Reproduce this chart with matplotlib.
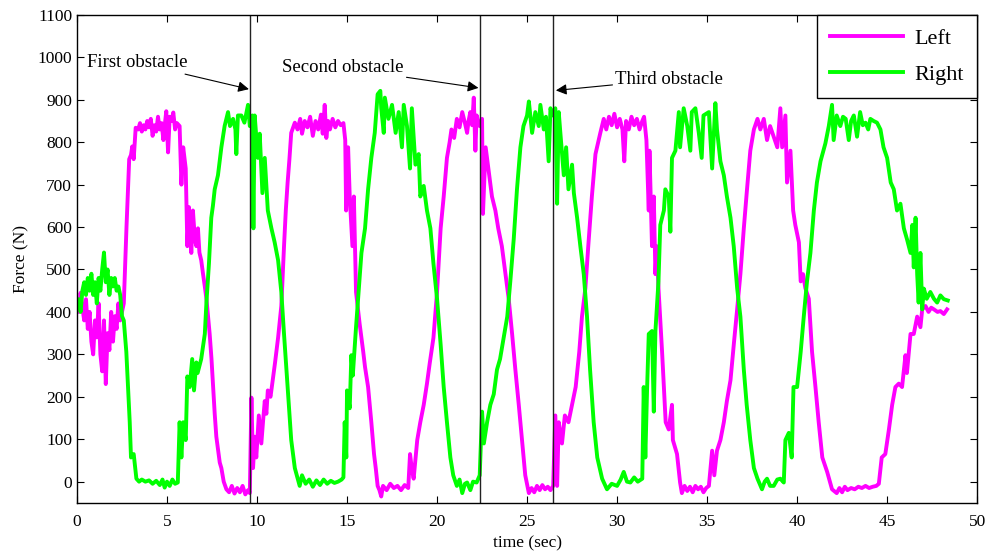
import matplotlib
matplotlib.use("Agg")
from matplotlib import pyplot as plt

plt.rcParams["font.family"] = ["Liberation Serif", "DejaVu Serif"]

# foot force, left foot
t_left = [
    0, 0.1, 0.2, 0.3, 0.4, 0.5, 0.6, 0.7, 0.8, 0.9, 1.0, 1.1, 1.2, 1.3, 1.4, 1.5,
    1.6, 1.7, 1.8, 1.9, 2.0, 2.1, 2.2, 2.3, 2.4, 2.5,
    2.6, 2.75, 2.9, 3.0, 3.07, 3.15, 3.26, 3.4, 3.5, 3.6, 3.7, 3.8, 3.9, 4.0, 4.1,
    4.2, 4.3, 4.4, 4.5, 4.6, 4.7, 4.8, 4.9, 4.96, 5.06, 5.15, 5.25, 5.35, 5.45,
    5.55, 5.7, 5.8, 5.9, 6.04, 6.13, 6.22, 6.35, 6.44, 6.55, 6.63, 6.72, 6.8, 6.9,
    7.0, 7.1, 7.19, 7.28, 7.37, 7.47, 7.56, 7.65, 7.74, 7.85, 7.93, 8.02, 8.15,
    8.3, 8.45, 8.6, 8.75, 8.9, 9.05, 9.2, 9.35, 9.5, 9.6, 9.69, 9.78, 9.87, 9.96,
    10.1, 10.24, 10.35, 10.43, 10.52, 10.6, 10.75, 10.9, 11.0, 11.17, 11.35, 11.5,
    11.6, 11.7, 11.8, 11.9, 12.1, 12.25, 12.4, 12.5, 12.65, 12.8, 12.95, 13.1,
    13.25, 13.4, 13.55, 13.65, 13.76, 13.85, 13.95, 14.05, 14.2, 14.35, 14.5,
    14.65, 14.8, 14.9, 14.95, 15.06, 15.15, 15.3, 15.38, 15.5, 15.6, 15.7, 15.9,
    16.0, 16.17, 16.35, 16.5, 16.6, 16.7, 16.8, 16.9, 17.0, 17.2, 17.4, 17.6, 17.8,
    18.0, 18.2, 18.4, 18.5, 18.6, 18.7, 18.9, 19.07, 19.26, 19.44, 19.6, 19.8,
    20.0, 20.2, 20.37, 20.55, 20.7, 20.8, 20.95, 21.1, 21.25, 21.4, 21.55, 21.67,
    21.75, 21.85, 21.95, 22.04, 22.13, 22.2, 22.37, 22.45, 22.5, 22.55, 22.7, 22.9,
    23.05, 23.24, 23.4, 23.6, 23.8, 23.98, 24.17, 24.35, 24.54, 24.72, 24.9, 25.1,
    25.25, 25.4, 25.55, 25.7, 25.85, 26.0, 26.15, 26.3, 26.45, 26.57, 26.67, 26.76,
    26.94, 27.1, 27.3, 27.5, 27.7, 27.9, 28.05, 28.24, 28.4, 28.6, 28.8, 28.95,
    29.07, 29.26, 29.4, 29.55, 29.7, 29.85, 30.0, 30.15, 30.3, 30.4, 30.5, 30.65,
    30.8, 30.95, 31.1, 31.25, 31.4, 31.5, 31.63, 31.76, 31.8, 31.94, 32.04, 32.13,
    32.2, 32.3, 32.5, 32.7, 32.87, 33.05, 33.1, 33.33, 33.5, 33.6, 33.75, 33.9,
    34.05, 34.2, 34.35, 34.5, 34.65, 34.8, 34.95, 35.1, 35.28, 35.4, 35.55, 35.74,
    35.93, 36.1, 36.3, 36.5, 36.67, 36.85, 37.04, 37.2, 37.4, 37.6, 37.8, 37.96,
    38.15, 38.33, 38.5, 38.7, 38.9, 39.07, 39.17, 39.35, 39.44, 39.63, 39.78, 39.9,
    40.1, 40.2, 40.33, 40.46, 40.65, 40.83, 41.02, 41.2, 41.4, 41.67, 41.94, 42.2,
    42.35, 42.5, 42.65, 42.8, 43.0, 43.2, 43.4, 43.6, 43.8, 44.0, 44.2, 44.4,
    44.54, 44.7, 44.9, 45.1, 45.28, 45.46, 45.65, 45.83, 46.02, 46.1, 46.3, 46.48,
    46.67, 46.85, 46.95, 47.13, 47.3, 47.45, 47.6, 47.8, 47.96, 48.15, 48.33,
]
force_left = [
    420, 400, 445, 410, 380, 430, 360, 400, 330, 300, 380, 340, 420, 300, 260, 380,
    230, 350, 310, 400, 330, 390, 360, 420, 380, 400,
    420, 600, 760, 770, 790, 760, 834, 830, 845, 825, 840, 830, 850, 835, 855,
    815, 840, 825, 860, 830, 845, 805, 850, 873, 776, 860, 850, 870, 830,
    845, 838, 700, 788, 738, 555, 647, 539, 639, 570, 555, 597, 540, 522,
    490, 460, 431, 390, 348, 290, 223, 160, 106, 70, 45, 32, 0,
    -18, -25, -10, -28, -15, -25, -10, -30, -20, -27, 198, 32, 106, 57,
    156, 90, 150, 190, 160, 215, 200, 248, 280, 339, 414, 555,
    640, 705, 760, 822, 846, 830, 855, 820, 850, 835, 860, 815,
    850, 830, 865, 820, 888, 810, 850, 830, 855, 835, 850,
    840, 845, 805, 639, 788, 672, 555, 672, 447, 410, 372, 306,
    270, 223, 140, 65, 30, -10, -20, -35, -10, -20, -5, -15, -10,
    -20, -8, -15, 65, 30, 7, 98, 140, 181, 231, 281, 339,
    447, 597, 672, 763, 800, 830, 810, 855, 835, 871, 845, 822,
    850, 871, 840, 905, 780, 863, 838, 845, 855, 631, 788, 722,
    672, 639, 597, 555, 489, 431, 348, 264, 181, 98, 15, -27,
    -15, -25, -10, -20, -8, -18, -12, -20, -10, 156, -10, 140,
    90, 156, 140, 181, 223, 306, 389, 456, 555, 672, 772, 800,
    822, 855, 830, 860, 840, 867, 835, 855, 830, 755, 850, 830,
    860, 840, 855, 830, 850, 860, 805, 639, 780, 555, 672, 489,
    555, 456, 306, 140, 123, 181, 98, 65, -2, -27, -10, -22,
    -12, -25, -10, -18, -12, -25, -15, -10, 73, 15, 73, 98,
    140, 190, 239, 331, 406, 489, 597, 680, 780, 830, 855, 830,
    855, 805, 838, 813, 788, 880, 788, 863, 705, 780, 639, 605,
    564, 472, 489, 456, 431, 306, 223, 140, 57, 23, -18, -27,
    -15, -25, -12, -20, -15, -18, -12, -15, -10, -15, -12, -10,
    -5, 57, 65, 123, 181, 223, 231, 223, 298, 256, 348, 348,
    389, 364, 406, 414, 400, 410, 406, 400, 402, 395, 406,
]

# foot force, right foot
t_right = [
    0, 0.1, 0.2, 0.3, 0.4, 0.5, 0.6, 0.7, 0.8, 0.9, 1.0, 1.1, 1.2, 1.3, 1.4, 1.5,
    1.6, 1.7, 1.8, 1.9, 2.0, 2.1, 2.2, 2.3, 2.4, 2.5,
    2.6, 2.74, 2.93, 3.0, 3.15, 3.3, 3.45, 3.6, 3.8, 4.0, 4.2, 4.4, 4.6, 4.75,
    4.87, 5.0, 5.15, 5.3, 5.45, 5.6, 5.7, 5.8, 5.9, 6.04, 6.13, 6.26, 6.4, 6.5,
    6.63, 6.7, 6.9, 7.1, 7.19, 7.33, 7.46, 7.55, 7.65, 7.83, 8.02, 8.2, 8.39, 8.5,
    8.67, 8.8, 8.85, 8.94, 9.13, 9.3, 9.5, 9.6, 9.74, 9.8, 9.87, 10.05, 10.15,
    10.3, 10.43, 10.6, 10.8, 10.98, 11.17, 11.35, 11.5, 11.7, 11.9, 12.1, 12.37,
    12.5, 12.7, 12.9, 13.1, 13.3, 13.5, 13.7, 13.9, 14.1, 14.3, 14.5, 14.7, 14.8,
    14.87, 14.96, 15.0, 15.15, 15.24, 15.32, 15.5, 15.6, 15.8, 16.0, 16.17, 16.35,
    16.54, 16.7, 16.85, 16.9, 17.04, 17.1, 17.3, 17.5, 17.7, 17.87, 18.05, 18.15,
    18.33, 18.5, 18.6, 18.8, 18.98, 19.07, 19.26, 19.44, 19.63, 19.8, 20.0, 20.2,
    20.37, 20.55, 20.74, 20.9, 21.1, 21.25, 21.4, 21.55, 21.67, 21.85, 22.0, 22.2,
    22.37, 22.5, 22.6, 22.78, 22.96, 23.15, 23.33, 23.5, 23.7, 23.9, 24.07, 24.26,
    24.44, 24.63, 24.8, 25.0, 25.1, 25.28, 25.46, 25.65, 25.74, 25.93, 26.05, 26.2,
    26.3, 26.4, 26.57, 26.67, 26.76, 26.85, 27.04, 27.17, 27.3, 27.5, 27.6, 27.78,
    27.96, 28.15, 28.33, 28.5, 28.7, 28.9, 29.17, 29.44, 29.7, 30.0, 30.2, 30.37,
    30.55, 30.74, 30.95, 31.15, 31.4, 31.48, 31.57, 31.67, 31.76, 31.94, 32.04,
    32.13, 32.3, 32.4, 32.6, 32.68, 32.87, 32.96, 33.05, 33.24, 33.43, 33.5, 33.7,
    33.9, 34.07, 34.15, 34.35, 34.54, 34.7, 34.8, 35.1, 35.28, 35.46, 35.55, 35.74,
    35.93, 36.1, 36.3, 36.48, 36.67, 36.85, 37.04, 37.2, 37.4, 37.6, 37.8, 38.05,
    38.2, 38.33, 38.5, 38.7, 38.9, 39.07, 39.26, 39.35, 39.54, 39.7, 39.8, 40.0,
    40.2, 40.37, 40.55, 40.74, 40.93, 41.1, 41.3, 41.57, 41.76, 41.94, 42.03, 42.2,
    42.4, 42.55, 42.7, 42.87, 43.0, 43.15, 43.33, 43.5, 43.65, 43.8, 43.95, 44.07,
    44.25, 44.44, 44.63, 44.8, 45.0, 45.2, 45.37, 45.55, 45.74, 45.93, 46.1, 46.3,
    46.4, 46.48, 46.58, 46.67, 46.75, 46.85, 46.95, 47.04, 47.2, 47.4, 47.6, 47.78,
    47.96, 48.15, 48.37,
]
force_right = [
    410, 430, 400, 450, 470, 440, 480, 450, 490, 440, 470, 420, 480, 450, 500, 540,
    470, 500, 440, 480, 460, 480, 450, 460, 440, 390,
    380, 306, 140, 57, 65, 7, 0, 5, 0, 3, -5, 2, -8, 5,
    -14, 0, -10, 5, -5, -2, 140, 57, 140, 98, 248, 223, 289, 215,
    281, 256, 289, 348, 422, 514, 622, 650, 689, 722, 788, 838, 871, 838,
    855, 830, 772, 863, 863, 846, 888, 838, 863, 597, 863, 763, 820,
    680, 763, 639, 597, 564, 522, 447, 348, 223, 98, 32, -10,
    15, -5, 5, -12, 3, -8, 5, -5, 2, -3, 0, 5, 10,
    140, 57, 215, 173, 298, 250, 364, 422, 539, 597, 689, 763,
    822, 913, 921, 880, 822, 905, 855, 888, 822, 871, 788, 888,
    838, 738, 880, 747, 772, 672, 697, 639, 597, 514, 431, 323,
    223, 140, 57, 15, -10, 5, -27, -5, -2, -20, 0, -2,
    15, 165, 90, 140, 181, 206, 264, 289, 339, 389, 472, 572,
    689, 788, 838, 863, 896, 822, 871, 838, 888, 830, 860, 755,
    880, 863, 880, 655, 871, 822, 722, 788, 689, 747, 680, 622,
    555, 489, 389, 264, 140, 57, 7, -18, -5, -10, 5, 23,
    0, -2, 10, 0, 7, 223, 57, 223, 348, 355, 165,
    355, 472, 605, 639, 689, 672, 589, 763, 780, 871, 788, 880,
    838, 780, 871, 880, 822, 763, 863, 871, 738, 892, 830, 755,
    722, 672, 622, 555, 456, 389, 264, 181, 98, 32, 7, -18,
    0, 7, -10, -10, 5, 7, -2, 98, 115, 57, 223, 223,
    306, 389, 472, 539, 639, 705, 755, 797, 838, 888, 805, 863,
    838, 860, 855, 805, 850, 863, 813, 871, 840, 846, 830, 855,
    850, 846, 830, 788, 763, 705, 689, 639, 655, 597, 572, 539,
    605, 505, 622, 489, 422, 539, 406, 455, 431, 447, 431, 422,
    439, 430, 427,
]

# obstacle crossing times (sec)
obstacle_times = [9.6, 22.4, 26.45]
obstacle_labels = ["First obstacle", "Second obstacle", "Third obstacle"]
label_pos = [(0.55, 987), (11.4, 975), (29.9, 948)]
arrow_tip = [(9.55, 925), (22.3, 928), (26.6, 922)]

fig = plt.figure(figsize=(9.87, 5.52), dpi=100)
ax = fig.add_axes([0.078, 0.089, 0.912, 0.884])

ax.plot(t_left, force_left, color="#ff00ff", lw=2.8, label="Left")
ax.plot(t_right, force_right, color="#00ff00", lw=2.8, label="Right")

for t in obstacle_times:
    ax.axvline(t, color="#222222", lw=1.0)

for text, pos, tip in zip(obstacle_labels, label_pos, arrow_tip):
    ax.annotate(
        text, xy=tip, xytext=pos, fontsize=13.5, va="center", ha="left",
        arrowprops=dict(arrowstyle="-|>", color="black", lw=0.8,
                        mutation_scale=16, shrinkA=0, shrinkB=0),
    )

ax.set_xlim(0, 50)
ax.set_ylim(-50, 1100)
ax.set_xticks(range(0, 51, 5))
ax.set_yticks(range(0, 1101, 100))
ax.tick_params(direction="in", top=True, right=True, labelsize=12.5, length=5)
ax.tick_params(axis="x", pad=8)
for spine in ax.spines.values():
    spine.set_linewidth(1.0)

ax.set_xlabel("time (sec)", fontsize=12.5, labelpad=4)
ax.set_ylabel("Force (N)", fontsize=12.5, labelpad=6)

leg = ax.legend(loc="upper right", fontsize=16, fancybox=False, framealpha=1,
                edgecolor="black", borderaxespad=0, handlelength=3.3,
                handletextpad=0.5, borderpad=0.6, labelspacing=0.7)
leg.get_frame().set_linewidth(1.0)

fig.savefig("out.png", dpi=100)
